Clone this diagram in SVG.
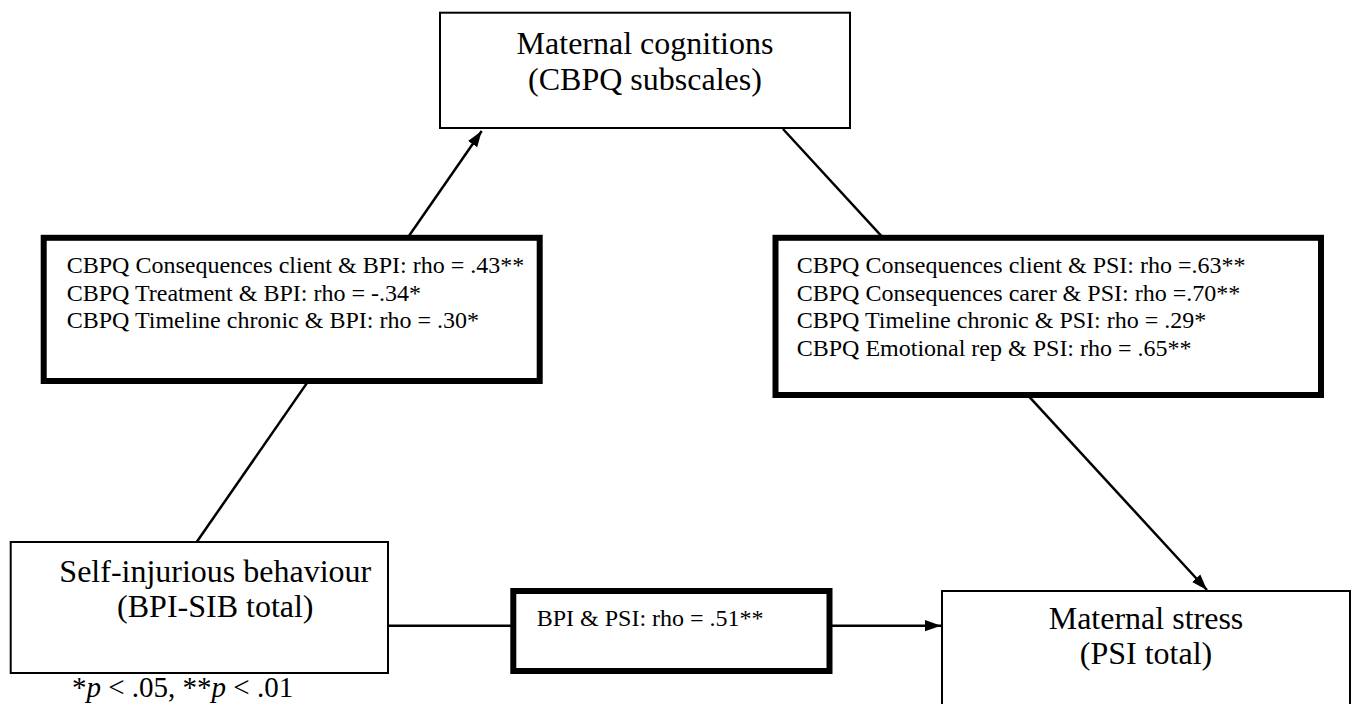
<svg xmlns="http://www.w3.org/2000/svg" width="1366" height="704" viewBox="0 0 1366 704">
  <style>
    .box { fill: #ffffff; stroke: #000000; stroke-width: 2; }
    .bold { fill: #ffffff; stroke: #000000; stroke-width: 6; }
    .title { font-family: "Liberation Serif", "Times New Roman", serif; font-size: 32px; fill: #000000; text-anchor: middle; }
    .stat { font-family: "Liberation Serif", "Times New Roman", serif; font-size: 24px; fill: #000000; }
    .note { font-family: "Liberation Serif", "Times New Roman", serif; font-size: 29px; fill: #000000; }
    .conn { stroke: #000000; stroke-width: 2.5; fill: none; }
  </style>
  <defs>
    <marker id="arrowL" viewBox="0 0 10 10" refX="10" refY="5" markerWidth="16" markerHeight="16" markerUnits="userSpaceOnUse" orient="auto">
      <path d="M0,1.5 L10,5 L0,8.5 z" fill="#000000"/>
    </marker>
  </defs>

  <g id="connectors">
    <line class="conn" x1="196.7" y1="542" x2="481.7" y2="131" marker-end="url(#arrowL)"/>
    <line class="conn" x1="783" y1="129" x2="1207" y2="590" marker-end="url(#arrowL)"/>
    <line class="conn" x1="388" y1="625.7" x2="512" y2="625.7"/>
    <line class="conn" x1="832" y1="625.7" x2="941" y2="625.7" marker-end="url(#arrowL)"/>
  </g>

  <g id="node-cognitions">
    <rect class="box" x="440" y="12.7" width="410" height="115.3"/>
    <text class="title" x="645" y="53.5">Maternal cognitions</text>
    <text class="title" x="645" y="90">(CBPQ subscales)</text>
  </g>

  <g id="node-sib">
    <rect class="box" x="10.7" y="542" width="377.3" height="131"/>
    <text class="title" x="215.3" y="582">Self-injurious behaviour</text>
    <text class="title" x="215.3" y="617">(BPI-SIB total)</text>
  </g>

  <g id="node-stress">
    <rect class="box" x="942" y="591" width="408" height="130"/>
    <text class="title" x="1146" y="629">Maternal stress</text>
    <text class="title" x="1146" y="664">(PSI total)</text>
  </g>

  <g id="label-left">
    <rect class="bold" x="43.7" y="237.8" width="496" height="143.2"/>
    <text class="stat" x="66.7" y="273">CBPQ Consequences client &amp; BPI: rho = .43**</text>
    <text class="stat" x="66.7" y="300.6">CBPQ Treatment &amp; BPI: rho = -.34*</text>
    <text class="stat" x="66.7" y="328.2">CBPQ Timeline chronic &amp; BPI: rho = .30*</text>
  </g>

  <g id="label-right">
    <rect class="bold" x="775.5" y="237.8" width="545.5" height="157.2"/>
    <text class="stat" x="796.7" y="273">CBPQ Consequences client &amp; PSI: rho =.63**</text>
    <text class="stat" x="796.7" y="300.6">CBPQ Consequences carer &amp; PSI: rho =.70**</text>
    <text class="stat" x="796.7" y="328.2">CBPQ Timeline chronic &amp; PSI: rho = .29*</text>
    <text class="stat" x="796.7" y="355.8">CBPQ Emotional rep &amp; PSI: rho = .65**</text>
  </g>

  <g id="label-bottom">
    <rect class="bold" x="513.3" y="591" width="316.2" height="80"/>
    <text class="stat" x="536.7" y="626">BPI &amp; PSI: rho = .51**</text>
  </g>

  <g id="footnote">
    <text class="note" x="72" y="697">*<tspan font-style="italic">p</tspan> &lt; .05, **<tspan font-style="italic">p</tspan> &lt; .01</text>
  </g>
</svg>
